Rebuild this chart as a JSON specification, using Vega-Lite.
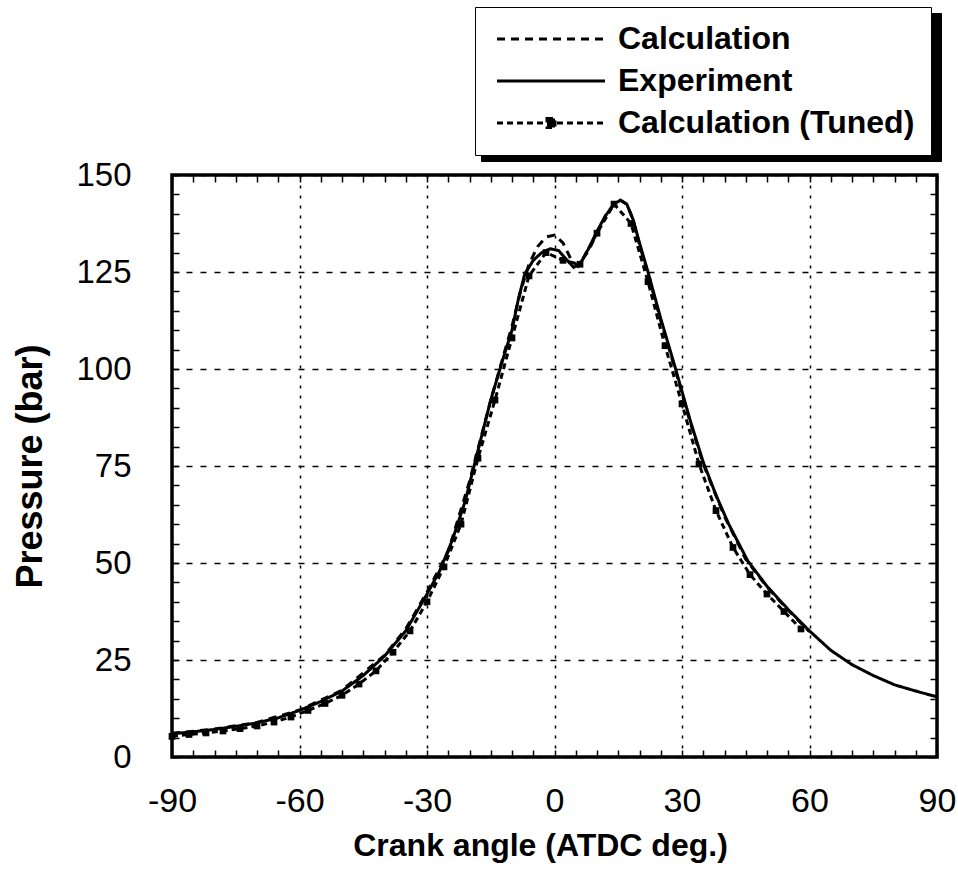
{
  "$schema": "https://vega.github.io/schema/vega-lite/v6.json",
  "width": 765,
  "height": 582,
  "autosize": {"type": "none"},
  "padding": {"left": 172, "top": 175, "right": 21, "bottom": 136},
  "background": "white",
  "config": {
    "view": {"stroke": "black", "strokeWidth": 3.5},
    "font": "Liberation Sans",
    "axis": {"domain": false, "ticks": true, "tickColor": "black", "tickWidth": 1.5, "labelColor": "black", "titleColor": "black", "labelFont": "Liberation Sans", "titleFont": "Liberation Sans"}
  },
  "datasets": {
    "curves": [
      {"series": "Experiment", "angle": -90, "pressure": 6},
      {"series": "Experiment", "angle": -85, "pressure": 6.5},
      {"series": "Experiment", "angle": -80, "pressure": 7.1},
      {"series": "Experiment", "angle": -75, "pressure": 7.9},
      {"series": "Experiment", "angle": -70, "pressure": 8.8},
      {"series": "Experiment", "angle": -65, "pressure": 10.1},
      {"series": "Experiment", "angle": -60, "pressure": 12},
      {"series": "Experiment", "angle": -55, "pressure": 14.3},
      {"series": "Experiment", "angle": -50, "pressure": 17},
      {"series": "Experiment", "angle": -45, "pressure": 21},
      {"series": "Experiment", "angle": -40, "pressure": 26},
      {"series": "Experiment", "angle": -35, "pressure": 32.5},
      {"series": "Experiment", "angle": -30, "pressure": 42},
      {"series": "Experiment", "angle": -27, "pressure": 48},
      {"series": "Experiment", "angle": -24, "pressure": 56},
      {"series": "Experiment", "angle": -21, "pressure": 66},
      {"series": "Experiment", "angle": -18, "pressure": 79},
      {"series": "Experiment", "angle": -15, "pressure": 92},
      {"series": "Experiment", "angle": -12, "pressure": 103},
      {"series": "Experiment", "angle": -10, "pressure": 110},
      {"series": "Experiment", "angle": -8.5, "pressure": 118},
      {"series": "Experiment", "angle": -7, "pressure": 124.5},
      {"series": "Experiment", "angle": -5, "pressure": 128},
      {"series": "Experiment", "angle": -3, "pressure": 130},
      {"series": "Experiment", "angle": -1, "pressure": 131},
      {"series": "Experiment", "angle": 1, "pressure": 130.5},
      {"series": "Experiment", "angle": 3, "pressure": 128},
      {"series": "Experiment", "angle": 4.5, "pressure": 126.2},
      {"series": "Experiment", "angle": 6, "pressure": 127},
      {"series": "Experiment", "angle": 8, "pressure": 131},
      {"series": "Experiment", "angle": 10, "pressure": 135.5},
      {"series": "Experiment", "angle": 12, "pressure": 139.5},
      {"series": "Experiment", "angle": 14, "pressure": 142.5},
      {"series": "Experiment", "angle": 15.5, "pressure": 143.5},
      {"series": "Experiment", "angle": 17, "pressure": 142.5},
      {"series": "Experiment", "angle": 18.5, "pressure": 138.5},
      {"series": "Experiment", "angle": 20, "pressure": 132.5},
      {"series": "Experiment", "angle": 22, "pressure": 125},
      {"series": "Experiment", "angle": 25, "pressure": 113},
      {"series": "Experiment", "angle": 28.5, "pressure": 100},
      {"series": "Experiment", "angle": 32, "pressure": 86.5},
      {"series": "Experiment", "angle": 35, "pressure": 76},
      {"series": "Experiment", "angle": 38, "pressure": 67.5},
      {"series": "Experiment", "angle": 41, "pressure": 60},
      {"series": "Experiment", "angle": 45.5, "pressure": 50.5},
      {"series": "Experiment", "angle": 50, "pressure": 44},
      {"series": "Experiment", "angle": 55, "pressure": 38},
      {"series": "Experiment", "angle": 60, "pressure": 32.5},
      {"series": "Experiment", "angle": 65, "pressure": 27.5},
      {"series": "Experiment", "angle": 70, "pressure": 23.8},
      {"series": "Experiment", "angle": 75, "pressure": 21},
      {"series": "Experiment", "angle": 80, "pressure": 18.6},
      {"series": "Experiment", "angle": 85, "pressure": 17},
      {"series": "Experiment", "angle": 90, "pressure": 15.5},

      {"series": "Calculation", "angle": -90, "pressure": 6.1},
      {"series": "Calculation", "angle": -80, "pressure": 7.2},
      {"series": "Calculation", "angle": -70, "pressure": 8.9},
      {"series": "Calculation", "angle": -60, "pressure": 12.1},
      {"series": "Calculation", "angle": -50, "pressure": 17.2},
      {"series": "Calculation", "angle": -40, "pressure": 26.2},
      {"series": "Calculation", "angle": -35, "pressure": 33},
      {"series": "Calculation", "angle": -30, "pressure": 42.5},
      {"series": "Calculation", "angle": -25, "pressure": 53},
      {"series": "Calculation", "angle": -20, "pressure": 71},
      {"series": "Calculation", "angle": -15, "pressure": 92},
      {"series": "Calculation", "angle": -12, "pressure": 103.5},
      {"series": "Calculation", "angle": -10, "pressure": 111},
      {"series": "Calculation", "angle": -8, "pressure": 120},
      {"series": "Calculation", "angle": -6, "pressure": 127},
      {"series": "Calculation", "angle": -4, "pressure": 131.5},
      {"series": "Calculation", "angle": -2, "pressure": 134},
      {"series": "Calculation", "angle": 0, "pressure": 134.5},
      {"series": "Calculation", "angle": 2, "pressure": 132.5},
      {"series": "Calculation", "angle": 4, "pressure": 128},
      {"series": "Calculation", "angle": 5.5, "pressure": 126.5},
      {"series": "Calculation", "angle": 8, "pressure": 130.5},
      {"series": "Calculation", "angle": 10, "pressure": 135},
      {"series": "Calculation", "angle": 12, "pressure": 139.5},
      {"series": "Calculation", "angle": 14, "pressure": 142.5},
      {"series": "Calculation", "angle": 15.5, "pressure": 143.5},
      {"series": "Calculation", "angle": 17, "pressure": 142.5},
      {"series": "Calculation", "angle": 18.5, "pressure": 138.5},
      {"series": "Calculation", "angle": 20, "pressure": 132},
      {"series": "Calculation", "angle": 22, "pressure": 124.5},
      {"series": "Calculation", "angle": 25, "pressure": 112.5},
      {"series": "Calculation", "angle": 28.5, "pressure": 99.5},
      {"series": "Calculation", "angle": 32, "pressure": 86},
      {"series": "Calculation", "angle": 35, "pressure": 75.5},
      {"series": "Calculation", "angle": 40, "pressure": 62},
      {"series": "Calculation", "angle": 45, "pressure": 51},
      {"series": "Calculation", "angle": 50, "pressure": 43.8},
      {"series": "Calculation", "angle": 55, "pressure": 37.8},
      {"series": "Calculation", "angle": 60, "pressure": 32.3},

      {"series": "Calculation (Tuned)", "angle": -90, "pressure": 5.3},
      {"series": "Calculation (Tuned)", "angle": -86, "pressure": 5.8},
      {"series": "Calculation (Tuned)", "angle": -82, "pressure": 6.2},
      {"series": "Calculation (Tuned)", "angle": -78, "pressure": 6.7},
      {"series": "Calculation (Tuned)", "angle": -74, "pressure": 7.3},
      {"series": "Calculation (Tuned)", "angle": -70, "pressure": 8.0},
      {"series": "Calculation (Tuned)", "angle": -66, "pressure": 9.0},
      {"series": "Calculation (Tuned)", "angle": -62, "pressure": 10.3},
      {"series": "Calculation (Tuned)", "angle": -58, "pressure": 12.0},
      {"series": "Calculation (Tuned)", "angle": -54, "pressure": 13.8},
      {"series": "Calculation (Tuned)", "angle": -50, "pressure": 15.9},
      {"series": "Calculation (Tuned)", "angle": -46, "pressure": 18.8},
      {"series": "Calculation (Tuned)", "angle": -42, "pressure": 22.2},
      {"series": "Calculation (Tuned)", "angle": -38, "pressure": 27},
      {"series": "Calculation (Tuned)", "angle": -34, "pressure": 32.5},
      {"series": "Calculation (Tuned)", "angle": -30, "pressure": 40},
      {"series": "Calculation (Tuned)", "angle": -26, "pressure": 49},
      {"series": "Calculation (Tuned)", "angle": -22, "pressure": 60},
      {"series": "Calculation (Tuned)", "angle": -18, "pressure": 77},
      {"series": "Calculation (Tuned)", "angle": -14, "pressure": 92},
      {"series": "Calculation (Tuned)", "angle": -10, "pressure": 108},
      {"series": "Calculation (Tuned)", "angle": -6, "pressure": 124},
      {"series": "Calculation (Tuned)", "angle": -2, "pressure": 130},
      {"series": "Calculation (Tuned)", "angle": 2, "pressure": 128},
      {"series": "Calculation (Tuned)", "angle": 6, "pressure": 127},
      {"series": "Calculation (Tuned)", "angle": 10, "pressure": 135},
      {"series": "Calculation (Tuned)", "angle": 14, "pressure": 142.5},
      {"series": "Calculation (Tuned)", "angle": 18, "pressure": 137.5},
      {"series": "Calculation (Tuned)", "angle": 22, "pressure": 122.5},
      {"series": "Calculation (Tuned)", "angle": 26, "pressure": 106},
      {"series": "Calculation (Tuned)", "angle": 30, "pressure": 91},
      {"series": "Calculation (Tuned)", "angle": 34, "pressure": 75.5},
      {"series": "Calculation (Tuned)", "angle": 38, "pressure": 63.5},
      {"series": "Calculation (Tuned)", "angle": 42, "pressure": 54},
      {"series": "Calculation (Tuned)", "angle": 46, "pressure": 47},
      {"series": "Calculation (Tuned)", "angle": 50, "pressure": 42},
      {"series": "Calculation (Tuned)", "angle": 54, "pressure": 37.5},
      {"series": "Calculation (Tuned)", "angle": 58, "pressure": 33}
    ]
  },
  "data": {"name": "curves"},
  "layer": [
    {
      "mark": {"type": "line", "strokeWidth": 3},
      "encoding": {
        "x": {
          "field": "angle", "type": "quantitative",
          "scale": {"domain": [-90, 90], "nice": false, "zero": false},
          "axis": {
            "orient": "bottom",
            "title": "Crank angle (ATDC deg.)",
            "values": [-90,-85,-80,-75,-70,-65,-60,-55,-50,-45,-40,-35,-30,-25,-20,-15,-10,-5,0,5,10,15,20,25,30,35,40,45,50,55,60,65,70,75,80,85,90],
            "labelExpr": "datum.value % 30 === 0 ? '' + datum.value : ''",
            "labelFontSize": 34, "labelPadding": 34, "labelFlush": false, "labelOverlap": false,
            "tickSize": -7,
            "grid": true, "gridColor": "black", "gridWidth": 1.5, "gridDash": [3, 7],
            "gridOpacity": {"condition": {"test": "datum.value % 30 === 0", "value": 1}, "value": 0},
            "titleFontSize": 32, "titleFontWeight": "bold", "titlePadding": 12, "titleX": 368
          }
        },
        "y": {
          "field": "pressure", "type": "quantitative",
          "scale": {"domain": [0, 150], "nice": false},
          "axis": {
            "orient": "left",
            "title": "Pressure (bar)",
            "values": [0,5,10,15,20,25,30,35,40,45,50,55,60,65,70,75,80,85,90,95,100,105,110,115,120,125,130,135,140,145,150],
            "labelExpr": "datum.value % 25 === 0 ? '' + datum.value : ''",
            "labelFontSize": 33, "labelPadding": 48, "labelOverlap": false, "labelFlush": false,
            "tickSize": -7,
            "grid": true, "gridColor": "black", "gridWidth": 1.5, "gridDash": [6, 8],
            "gridOpacity": {"condition": {"test": "datum.value % 25 === 0", "value": 1}, "value": 0},
            "titleFontSize": 36, "titleFontWeight": "bold", "titlePadding": 26
          }
        },
        "color": {
          "field": "series", "type": "nominal",
          "scale": {"domain": ["Experiment", "Calculation", "Calculation (Tuned)"], "range": ["black", "black", "black"]},
          "legend": {
            "title": null,
            "orient": "none",
            "legendX": 309,
            "legendY": -162,
            "symbolType": "M-1,-1.6H41.2V1.6H-1Z",
            "symbolSize": 400,
            "symbolStrokeWidth": 0,
            "symbolFillColor": "black",
            "labelExpr": "''",
            "labelFontSize": 32,
            "labelOffset": 0,
            "rowPadding": 10,
            "padding": 16,
            "fillColor": "black",
            "strokeColor": "black",
            "encode": {
              "symbols": {
                "update": {
                  "fill": {"value": "black"},
                  "stroke": {"value": "black"},
                  "opacity": {"value": 1}
                }
              }
            }
          }
        },
        "strokeDash": {
          "field": "series", "type": "nominal",
          "scale": {"domain": ["Calculation", "Experiment", "Calculation (Tuned)"], "range": [[8, 6], [1, 0], [6, 4]]},
          "legend": {
            "title": null,
            "orient": "none",
            "legendX": 303,
            "legendY": -168,
            "symbolType": "M-1,0H9.8",
            "symbolSize": 400,
            "symbolStrokeWidth": 3,
            "symbolStrokeColor": "black",
            "symbolFillColor": "black",
            "labelFontSize": 32,
            "labelFontWeight": "bold",
            "labelColor": "black",
            "labelOffset": 95,
            "rowPadding": 10,
            "padding": 16,
            "fillColor": "white",
            "strokeColor": "black",
            "labelLimit": 400,
            "encode": {
              "symbols": {
                "update": {
                  "shape": {"signal": "datum.label === 'Calculation (Tuned)' ? 'M-1,0H9.8M4.0,-0.45H4.8V0.45H4.0Z' : 'M-1,0H9.8'"},
                  "fill": {"value": "black"},
                  "stroke": {"value": "black"},
                  "strokeWidth": {"value": 3},
                  "strokeDash": {"scale": "strokeDash", "field": "value"},
                  "opacity": {"value": 1}
                }
              }
            }
          }
        }
      }
    },
    {
      "transform": [{"filter": "datum.series === 'Calculation (Tuned)'"}],
      "mark": {"type": "point", "shape": "square", "filled": true, "color": "black", "size": 45, "opacity": 1},
      "encoding": {
        "x": {
          "field": "angle", "type": "quantitative",
          "axis": {
            "orient": "top", "title": null, "labels": false, "grid": false,
            "values": [-90,-85,-80,-75,-70,-65,-60,-55,-50,-45,-40,-35,-30,-25,-20,-15,-10,-5,0,5,10,15,20,25,30,35,40,45,50,55,60,65,70,75,80,85,90],
            "tickSize": -7
          }
        },
        "y": {
          "field": "pressure", "type": "quantitative",
          "axis": {
            "orient": "right", "title": null, "labels": false, "grid": false,
            "values": [0,5,10,15,20,25,30,35,40,45,50,55,60,65,70,75,80,85,90,95,100,105,110,115,120,125,130,135,140,145,150],
            "tickSize": -7
          }
        }
      }
    }
  ],
  "resolve": {"axis": {"x": "independent", "y": "independent"}}
}
